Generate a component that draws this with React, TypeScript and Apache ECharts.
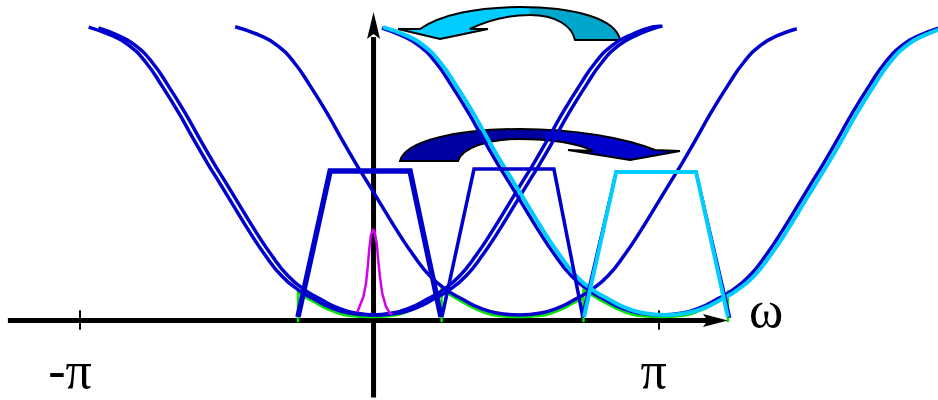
import React, { useEffect, useRef } from "react";
import * as echarts from "echarts";

// value axes: omega in units of pi (x), magnitude (y)
const X_MIN = -1.2763;
const X_MAX = 1.9637;
const Y_MIN = -0.5369;
const Y_MAX = 2.1477;

const TICK_VALUES = [-1, 1];
const TICK_LABELS = ["-π", "π"];
const TICK_LABEL_POS = [[-1.0345, -0.339], [0.981, -0.339]];
const AXIS_NAME = "ω";
const AXIS_NAME_POS = [1.3696, 0.0705];
const TICK_HALF = 0.065;

const X_AXIS_SHAFT = [[-1.249, -0.003], [1.17, -0.003]];
const X_ARROW_TIP = [1.238, -0.003];
const Y_AXIS_SHAFT = [[0.014, -0.52], [0.014, 1.9]];
const Y_ARROW_TIP = [0.014, 2.067];

// |H| curves (dark blue pair centred at 0, single at pi/2, dark+cyan pair at pi)
const A1 = [[-0.970,1.966],[-0.891,1.910],[-0.832,1.845],[-0.773,1.730],[-0.718,1.575],[-0.659,1.390],[-0.604,1.200],[-0.559,1.050],[-0.521,0.930],[-0.480,0.800],[-0.417,0.600],[-0.362,0.440],[-0.303,0.295],[-0.245,0.201],[-0.186,0.134],[-0.131,0.081],[-0.072,0.047],[0.004,0.034],[0.080,0.047],[0.139,0.081],[0.194,0.134],[0.253,0.201],[0.311,0.295],[0.370,0.440],[0.425,0.600],[0.488,0.800],[0.529,0.930],[0.567,1.050],[0.612,1.200],[0.667,1.390],[0.726,1.575],[0.781,1.730],[0.840,1.845],[0.899,1.910],[0.978,1.966],[1.005,1.972]];
const A2 = [[-0.936,1.960],[-0.869,1.910],[-0.810,1.845],[-0.751,1.730],[-0.696,1.575],[-0.637,1.390],[-0.582,1.200],[-0.537,1.050],[-0.499,0.930],[-0.458,0.800],[-0.395,0.600],[-0.340,0.440],[-0.281,0.295],[-0.223,0.201],[-0.164,0.134],[-0.109,0.081],[-0.050,0.047],[0.026,0.034],[0.102,0.047],[0.161,0.081],[0.216,0.134],[0.275,0.201],[0.333,0.295],[0.392,0.440],[0.447,0.600],[0.510,0.800],[0.551,0.930],[0.589,1.050],[0.634,1.200],[0.689,1.390],[0.748,1.575],[0.803,1.730],[0.862,1.845],[0.921,1.910],[0.995,1.966],[1.012,1.972]];
const B = [[-0.464,1.968],[-0.379,1.910],[-0.320,1.845],[-0.261,1.730],[-0.206,1.575],[-0.147,1.390],[-0.092,1.200],[-0.047,1.050],[-0.009,0.930],[0.032,0.800],[0.095,0.600],[0.150,0.440],[0.209,0.295],[0.267,0.201],[0.326,0.134],[0.381,0.081],[0.440,0.047],[0.516,0.034],[0.592,0.047],[0.651,0.081],[0.706,0.134],[0.765,0.201],[0.823,0.295],[0.882,0.440],[0.937,0.600],[1.000,0.800],[1.041,0.930],[1.079,1.050],[1.124,1.200],[1.179,1.390],[1.238,1.575],[1.293,1.730],[1.352,1.845],[1.411,1.910],[1.476,1.955]];
const C_DARK = [[0.043,1.960],[0.110,1.910],[0.169,1.845],[0.228,1.730],[0.283,1.575],[0.342,1.390],[0.397,1.200],[0.442,1.050],[0.480,0.930],[0.521,0.800],[0.584,0.600],[0.639,0.440],[0.698,0.295],[0.756,0.201],[0.815,0.134],[0.870,0.081],[0.929,0.047],[1.005,0.034],[1.081,0.047],[1.140,0.081],[1.195,0.134],[1.254,0.201],[1.312,0.295],[1.371,0.440],[1.426,0.600],[1.489,0.800],[1.530,0.930],[1.568,1.050],[1.613,1.200],[1.668,1.390],[1.727,1.575],[1.782,1.730],[1.841,1.845],[1.900,1.910],[1.979,1.966]];
const C_CYAN = [[0.047,1.966],[0.126,1.910],[0.185,1.845],[0.244,1.730],[0.299,1.575],[0.358,1.390],[0.413,1.200],[0.458,1.050],[0.496,0.930],[0.537,0.800],[0.600,0.600],[0.655,0.440],[0.714,0.295],[0.772,0.201],[0.831,0.134],[0.886,0.081],[0.945,0.047],[1.021,0.034],[1.097,0.047],[1.156,0.081],[1.211,0.134],[1.270,0.201],[1.328,0.295],[1.387,0.440],[1.442,0.600],[1.505,0.800],[1.546,0.930],[1.584,1.050],[1.629,1.200],[1.684,1.390],[1.743,1.575],[1.798,1.730],[1.857,1.845],[1.916,1.910],[1.995,1.966]];

// band-pass trapezoids
const TRAP_LOW = [[-0.247,0.02],[-0.136,1.0],[0.140,1.0],[0.247,0.02]];
const TRAP_MID = [[0.250,0.02],[0.361,1.013],[0.637,1.013],[0.737,0.02]];
const TRAP_HIGH_EDGE = [[0.734,0.015],[0.852,0.993],[1.128,0.993],[1.245,0.015]];
const TRAP_HIGH = [[0.741,0.02],[0.852,0.993],[1.128,0.993],[1.238,0.02]];

// green in-band products
const G1 = [[-0.247,0.182],[-0.186,0.114],[-0.131,0.061],[-0.072,0.029],[0.004,0.020],[0.080,0.029],[0.139,0.061],[0.194,0.114],[0.249,0.177]];
const G2 = [[0.250,0.207],[0.267,0.181],[0.326,0.114],[0.381,0.061],[0.440,0.029],[0.516,0.020],[0.592,0.029],[0.651,0.061],[0.706,0.114],[0.739,0.152]];
const G3 = [[0.741,0.197],[0.756,0.181],[0.815,0.114],[0.870,0.061],[0.929,0.029],[1.005,0.020],[1.081,0.029],[1.140,0.061],[1.195,0.114],[1.238,0.164]];
const GREEN_EDGES = [[-0.247,0.20],[0.249,0.22],[0.739,0.21],[1.238,0.20]];
const GREEN_BASE = -0.015;

// magenta narrow peak
const MAG = [[-0.043,0.052],[-0.039,0.067],[-0.021,0.156],[-0.012,0.246],[-0.006,0.358],[-0.001,0.470],[0.005,0.570],[0.012,0.604],[0.017,0.597],[0.025,0.515],[0.030,0.403],[0.036,0.291],[0.044,0.179],[0.057,0.089],[0.071,0.045],[0.078,0.038]];

const DARK = "#0000cc";
const CYAN = "#00ccff";
const GREEN = "#00e600";
const MAGENTA = "#d400f0";

const TOP_ARROW_D =
  "M620,40 C616,18 572,7 520,7 C476,7 440,15 420,29 L398,29 L440,39 L488,29 L470,29 C488,20 510,15 530,15 C556,15 572,26 575,40 Z";
const LOW_ARROW_D =
  "M400,161 C405,140 460,129 520,129 C575,129 625,138 655,150 L680,151 L630,160 L568,150 L593,151 C575,142 548,139 518,139 C488,139 462,148 458,161 Z";

echarts.graphic.registerShape("arrowTop", echarts.graphic.extendPath(TOP_ARROW_D, {}));
echarts.graphic.registerShape("arrowLow", echarts.graphic.extendPath(LOW_ARROW_D, {}));

function line(data: number[][], color: string, width: number, z: number, smooth: boolean | number = false) {
  return {
    type: "line",
    data,
    smooth,
    symbol: "none",
    silent: true,
    z,
    clip: true,
    lineStyle: { color, width, cap: "butt", join: "miter" },
    emphasis: { disabled: true },
  };
}

export default function App() {
  const ref = useRef<HTMLDivElement>(null);
  useEffect(() => {
    document.body.style.margin = "0";
    const chart = echarts.init(ref.current!, undefined, { renderer: "svg" });
    const series: any[] = [
      line(X_AXIS_SHAFT, "#000", 5, 1),
      line(Y_AXIS_SHAFT, "#000", 5, 1),
      ...TICK_VALUES.map((t) => line([[t, -TICK_HALF], [t, TICK_HALF]], "#000", 2, 1)),
      ...GREEN_EDGES.map((e) => line([[e[0], GREEN_BASE], [e[0], e[1]]], GREEN, 2.5, 2)),
      line(G1, GREEN, 2.5, 2, true),
      line(G2, GREEN, 2.5, 2, true),
      line(G3, GREEN, 2.5, 2, true),
      line(A1, DARK, 3.5, 3, true),
      line(A2, DARK, 3.5, 3, true),
      line(B, DARK, 3.5, 3, true),
      line(C_DARK, DARK, 3.5, 3, true),
      line(C_CYAN, CYAN, 4, 3, true),
      line(TRAP_LOW, DARK, 5.5, 4),
      line(TRAP_MID, DARK, 3.5, 4),
      line(TRAP_HIGH_EDGE, DARK, 3, 4),
      line(TRAP_HIGH, CYAN, 4, 4),
      line(MAG, MAGENTA, 2.5, 5),
    ];
    chart.setOption({
      animation: false,
      grid: { left: 0, right: 0, top: 0, bottom: 0 },
      xAxis: { type: "value", min: X_MIN, max: X_MAX, show: false },
      yAxis: { type: "value", min: Y_MIN, max: Y_MAX, show: false },
      series,
    });
    const px = (p: number[]) => chart.convertToPixel({ gridIndex: 0 }, p) as number[];
    const xt = px(X_ARROW_TIP);
    const yt = px(Y_ARROW_TIP);
    const texts = [
      ...TICK_LABELS.map((t, i) => ({ text: t, pos: px(TICK_LABEL_POS[i]) })),
      { text: AXIS_NAME, pos: px(AXIS_NAME_POS) },
    ];
    chart.setOption({
      graphic: [
        {
          type: "arrowTop",
          z: 0,
          silent: true,
          style: {
            fill: new echarts.graphic.LinearGradient(0, 0, 1, 0, [
              { offset: 0, color: "#00ccff" },
              { offset: 0.585, color: "#00ccff" },
              { offset: 0.6, color: "#00a6cc" },
              { offset: 1, color: "#00a6cc" },
            ]),
            stroke: "#000",
            lineWidth: 2,
          },
        },
        {
          type: "arrowLow",
          z: 0,
          silent: true,
          style: {
            fill: new echarts.graphic.LinearGradient(0, 0, 1, 0, [
              { offset: 0, color: "#0000a0" },
              { offset: 0.51, color: "#0000a0" },
              { offset: 0.53, color: "#0000cc" },
              { offset: 1, color: "#0000cc" },
            ]),
            stroke: "#000",
            lineWidth: 2,
          },
        },
        {
          type: "polygon",
          z: 10,
          silent: true,
          shape: { points: [[xt[0], xt[1]], [xt[0] - 25, xt[1] - 6.5], [xt[0] - 20, xt[1]], [xt[0] - 25, xt[1] + 6.5]] },
          style: { fill: "#000" },
        },
        {
          type: "polygon",
          z: 10,
          silent: true,
          shape: { points: [[yt[0], yt[1]], [yt[0] - 6.5, yt[1] + 27], [yt[0], yt[1] + 22], [yt[0] + 6.5, yt[1] + 27]] },
          style: { fill: "#000" },
        },
        ...texts.map((t) => ({
          type: "text",
          z: 10,
          silent: true,
          x: t.pos[0],
          y: t.pos[1],
          style: {
            text: t.text,
            fontSize: 52,
            fontFamily: "Liberation Serif",
            fill: "#000",
            align: "center",
            verticalAlign: "middle",
          },
        })),
      ],
    });
    return () => chart.dispose();
  }, []);
  return (
    <div
      ref={ref}
      style={{ position: "fixed", left: 0, top: 0, width: 938, height: 400, background: "#fff" }}
    />
  );
}
